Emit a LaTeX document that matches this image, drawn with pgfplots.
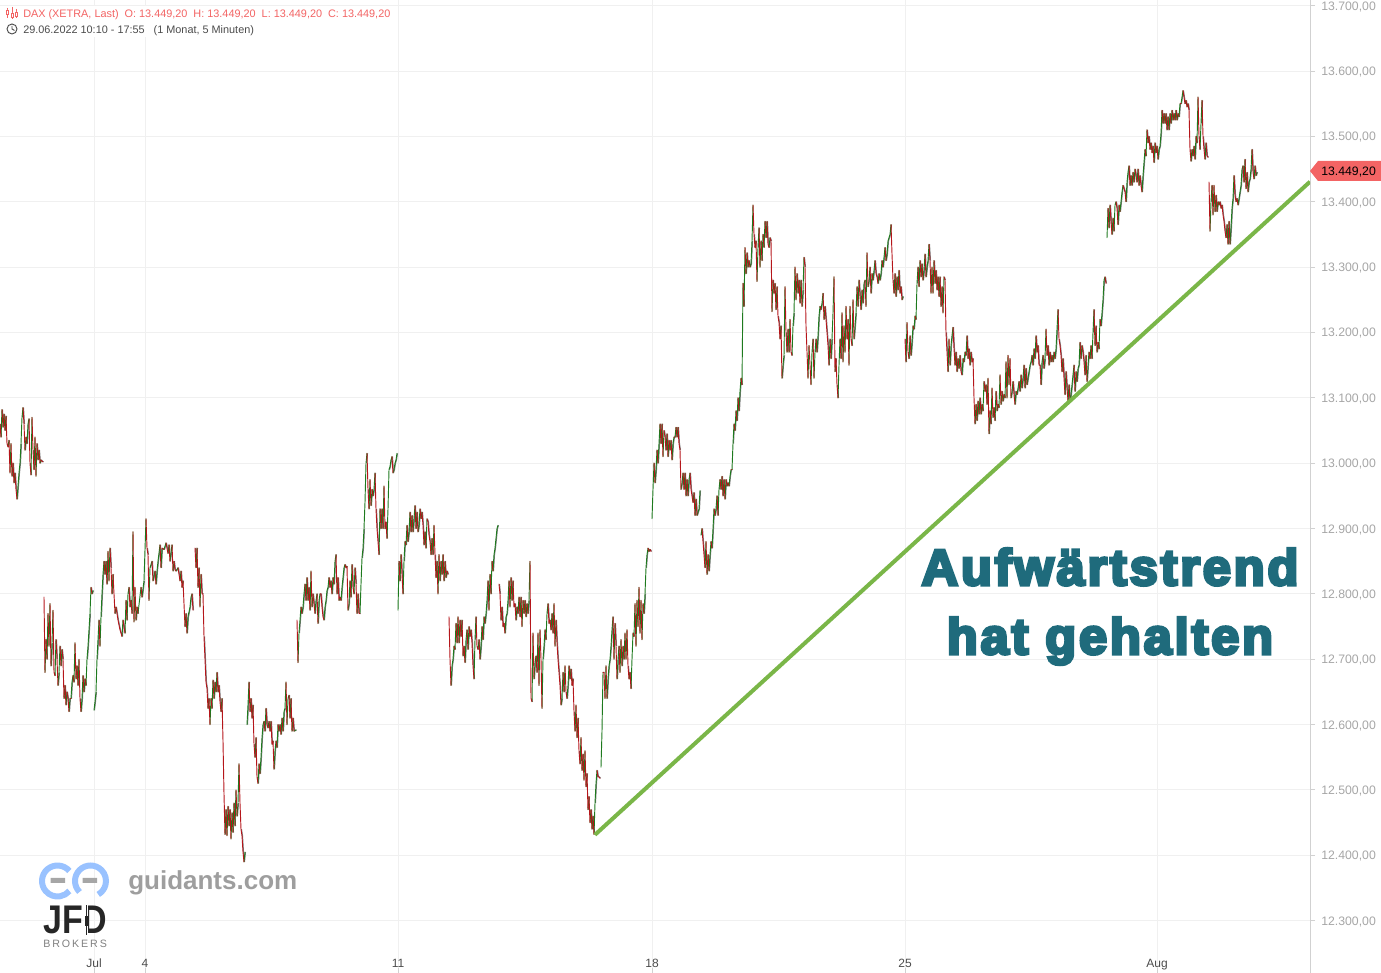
\documentclass[border=0pt]{standalone}
\usepackage{pgfplots}
\pgfplotsset{compat=1.18}
\usepackage{fontspec}
\setmainfont{Liberation Sans}
\newfontfamily\heavy[BoldFeatures={FakeBold=6,LetterSpace=5.5}]{Liberation Sans}
\newfontfamily\logofont[BoldFeatures={LetterSpace=0}]{Liberation Sans}
\newfontfamily\brokers[LetterSpace=18]{Liberation Sans}
\definecolor{upg}{HTML}{1E7A1E}
\definecolor{dnr}{HTML}{B5161B}
\definecolor{wick}{HTML}{7C7C7C}
\definecolor{trend}{HTML}{7AB648}
\definecolor{teal}{HTML}{1F6B7C}
\definecolor{tag}{HTML}{F36464}
\definecolor{lab}{HTML}{A6A6A6}
\gdef\upstr{}\gdef\dnstr{}\gdef\grstr{}
\newcommand\session[1]{%
 \gdef\prevx{}%
 \foreach \x/\y in {#1}{%
  \ifx\prevx\empty\else
   \ifdim\y pt>\prevy pt
    \xdef\upstr{\upstr(\prevx,\prevy)(\x,\y)(\x,nan)}%
    \ifdim\dimexpr\y pt-\prevy pt\relax<40pt \xdef\grstr{\grstr(\prevx,\prevy)(\x,\y)(\x,nan)}\fi
   \else
    \xdef\dnstr{\dnstr(\prevx,\prevy)(\x,\y)(\x,nan)}%
    \ifdim\dimexpr\prevy pt-\y pt\relax<40pt \xdef\grstr{\grstr(\prevx,\prevy)(\x,\y)(\x,nan)}\fi
   \fi
  \fi
  \xdef\prevx{\x}\xdef\prevy{\y}}}
\session{0/13060,1/13040,2/13082,3/13055,4/13075,5/13050,6/13072,7/13030,8/13025,9/13035,10/12985,11/13030,12/12980,13/13000,14/12970,15/12985,16/12960,17/12945,18/12965,19/12985,20/13000,21/13030,22/13070,23/13085,24/13060,25/13020,26/13040,27/13030,28/13060,29/13068,30/13000,31/12982,32/13070,33/13020,34/12990,35/13040,36/12980,37/13030,38/13005,39/13020,40/13000,41/13005,42/13003,43/13002}
\session{44/12795,45/12680,46/12730,47/12700,48/12770,49/12720,50/12785,51/12690,52/12725,53/12775,54/12680,55/12675,56/12730,57/12700,58/12660,59/12680,60/12720,61/12690,62/12715,63/12700,64/12640,65/12660,66/12630,67/12650,68/12640,69/12620,70/12640,71/12640,72/12665,73/12675,74/12665,75/12725,76/12670,77/12690,78/12660,79/12700,80/12640,81/12620,82/12640,83/12675,84/12650,85/12670,86/12660,87/12700,88/12720,89/12745,90/12770,91/12810,92/12800,93/12805}
\session{94/12622,95/12635,96/12650,97/12700,98/12730,99/12760,100/12720,101/12765,102/12800,103/12830,104/12850,105/12830,106/12850,107/12815,108/12865,109/12820,110/12870,111/12840,112/12800,113/12830,115/12770,116/12780,118/12760,120/12745,122/12735,123/12760,125/12740,126/12790,127/12760,128/12800,129/12810,130/12780,131/12790,132/12770,133/12895,134/12757,135/12810,136/12760,137/12780,138/12770,141/12810,142/12795,144/12820,146/12915,147/12870,148/12860,149/12790,150/12840,152/12850,153/12820,155/12835,156/12815,157/12835,158/12850,160/12875,161/12840,162/12870,164/12868,166/12878,167/12870,168/12862,169/12875,170/12850,172/12875,173/12835,174/12850,175/12837,176/12835,178/12840,180/12820,181/12835,182/12810,183/12820,185/12750,186/12770,187/12740,188/12765,190/12780,191/12795,192/12800,193/12775}
\session{195/12870,196/12840,197/12870,198/12810,199/12840,200/12780,201/12830,202/12800,203/12800,204/12735,205/12700,206/12665,207/12655,208/12625,209/12640,210/12600,211/12640,212/12625,213/12668,214/12640,215/12665,216/12650,217/12680,218/12650,219/12660,220/12635,221/12620,222/12640,223/12575,224/12494,225/12432,226/12470,227/12430,228/12475,229/12445,230/12470,231/12425,232/12465,233/12435,234/12480,235/12445,236/12500,237/12460,238/12480,239/12540,240/12480,241/12440,242/12430,243/12405,244/12390,245/12405}
\session{247/12600,248/12630,249/12665,250/12620,251/12640,252/12610,253/12630,254/12570,255/12550,256/12580,257/12520,258/12510,259/12540,260/12525,261/12550,262/12580,263/12600,264/12605,265/12590,266/12625,267/12600,268/12595,269/12605,270/12590,271/12605,272/12570,273/12575,274/12532,275/12560,276/12575,277/12565,278/12600,279/12590,280/12600,281/12585,282/12610,283/12590,284/12620,285/12625,286/12665,287/12600,288/12640,289/12645,290/12610,291/12640,292/12590,293/12610,294/12590,296/12592}
\session{297/12760,298/12695,299/12740,300/12760,301/12780,302/12770,303/12780,304/12800,305/12815,306/12790,307/12825,308/12790,309/12810,310/12775,311/12835,312/12780,313/12800,314/12785,315/12770,316/12790,317/12800,318/12755,319/12790,320/12800,321/12800,322/12780,323/12765,324/12760,325/12780,326/12790,327/12805,328/12810,329/12825,330/12810,331/12820,332/12800,333/12825,334/12815,335/12850,336/12860,337/12800,338/12825,339/12790,340/12795,341/12790,342/12810,343/12825,344/12840,345/12845,346/12840,347/12842,348/12775,349/12785,350/12820,351/12795,352/12845,353/12810,354/12800,355/12840,356/12815,357/12770,358/12800,359/12770,360/12770,361/12815,362/12855,363/12870,364/12900,365/12940,366/13000,367/13015,368/12960,369/12930,370/12975,371/12935,372/12960,373/12950,374/12960,375/12985,376/12930,377/12900,378/12880,379/12860,380/12930,381/12900,382/12930,383/12900,384/12965,385/12900,386/12910,387/12885,388/12930,389/12990,390/12995,391/13005,392/13010,393/12985,394/12990,395/13000,396/13005,397/13015}
\session{398/12775,399/12850,400/12820,401/12860,402/12830,403/12800,404/12850,405/12880,406/12875,407/12905,408/12880,409/12895,410/12925,411/12895,412/12920,413/12895,414/12915,415/12935,416/12900,417/12925,418/12895,419/12905,420/12930,421/12915,422/12925,423/12905,424/12875,425/12895,426/12870,427/12915,428/12910,429/12890,430/12880,431/12860,432/12885,433/12860,434/12905,435/12860,436/12825,437/12850,438/12800,439/12860,440/12820,441/12850,442/12830,443/12860,444/12820,445/12850,446/12825,447/12835,448/12830}
\session{449/12765,450/12700,451/12660,452/12690,453/12700,454/12720,455/12715,456/12755,457/12725,458/12765,459/12725,460/12760,461/12735,462/12760,463/12705,464/12720,465/12695,466/12730,467/12745,468/12715,469/12750,470/12735,471/12745,472/12725,473/12690,474/12670,475/12730,476/12765,477/12720,478/12715,479/12730,480/12700,481/12720,482/12750,483/12730,484/12765,485/12755,486/12770,487/12790,488/12820,489/12775,490/12830,491/12800,492/12850,493/12835,494/12860,495/12870,496/12885,497/12900,498/12905}
\session{499/12815,500/12800,501/12760,502/12780,503/12750,504/12755,505/12740,506/12765,507/12770,508/12790,509/12820,510/12780,511/12825,512/12790,513/12820,514/12780,515/12785,516/12760,517/12780,518/12770,519/12795,520/12765,521/12795,522/12750,523/12790,524/12770,525/12790,526/12765,527/12785,528/12770,529/12790,530/12850,531/12640,532/12635,533/12740,534/12670,535/12695,536/12705,537/12680,538/12740,539/12660,540/12745,541/12700,542/12625,543/12700,544/12720,545/12745,546/12730,547/12770,548/12785,549/12755,550/12760,551/12745,552/12770,553/12740,554/12785,555/12720,556/12760,557/12725,558/12700,559/12680,560/12660,561/12630,562/12640,563/12680,564/12650,565/12690,566/12650,567/12640,568/12660,569/12690,570/12670,571/12685,572/12660,573/12670,574/12620,575/12590,576/12630,577/12580,578/12610,579/12560,580/12540,581/12580,582/12530,583/12555,584/12515,585/12560,586/12505,587/12525,588/12470,589/12490,590/12450,591/12470,592/12440,593/12460,594/12432,595/12480,596/12510,597/12530,598/12520,599/12520,600/12518}
\session{601/12535,602/12590,603/12680,604/12680,605/12640,606/12690,607/12640,608/12670,609/12690,610/12700,611/12720,612/12745,613/12765,614/12700,615/12755,616/12720,617/12670,618/12700,619/12720,620/12680,621/12730,622/12690,623/12720,624/12700,625/12740,626/12700,627/12745,628/12690,629/12670,630/12680,631/12655,632/12700,633/12740,634/12735,635/12785,636/12720,637/12790,638/12750,639/12810,640/12740,641/12790,642/12730,643/12785,644/12770,645/12800,646/12840,647/12860,648/12870,649/12865,650/12868,651/12865}
\session{652/12915,653/12960,654/13000,655/12970,656/12990,657/13020,658/13000,659/13030,660/13060,661/13030,662/13060,663/13010,664/13050,665/13040,666/13020,667/13045,668/13010,669/13035,670/13020,671/13035,672/13005,673/13030,674/13040,675/13040,676/13055,677/13040,678/13055,679/13030,680/13020,681/12960,682/12970,683/12985,684/12960,685/12985,686/12950,687/12975,688/12950,689/12975,690/12985,691/12960,692/12950,693/12940,694/12955,695/12920,696/12945,697/12920,698/12925,699/12930,700/12958}
\session{701/12890,702/12900,703/12880,704/12860,705/12840,706/12880,707/12830,708/12860,709/12835,710/12860,711/12880,712/12870,713/12900,714/12930,715/12920,716/12930,717/12950,718/12920,719/12960,720/12975,721/12960,722/12980,723/12950,724/12975,725/12945,726/12975,727/12965,728/12970,729/12965,730/12980,731/12990,732/12990,733/13030,734/13060,735/13050,736/13080,737/13065,738/13100,739/13080,740/13110,741/13130,742/13120,743/13275,744/13240,745/13330,746/13290,747/13322,748/13300,749/13310,750/13300,751/13305,752/13340,753/13395,754/13350,755/13330,756/13340,757/13278,758/13330,759/13360,760/13300,761/13340,762/13310,763/13350,764/13330,765/13370,766/13345,767/13370,768/13335,769/13330,770/13345,771/13340,772/13232,773/13280,774/13260,775/13275,776/13235,777/13270,778/13225,779/13215,780/13190,781/13210,782/13130,783/13150,784/13165,785/13270,786/13200,787/13170,788/13205,789/13170,790/13220,791/13170,792/13165,793/13210,794/13230,795/13300,796/13250,797/13290,798/13260,799/13280,800/13245,801/13280,802/13240,803/13265,804/13315,805/13300,806/13210,807/13170,808/13130,809/13180,811/13120,812/13170,813/13190,814/13130,815/13170,816/13190,817/13170,818/13195,819/13225,820/13240,821/13235,822/13245,823/13260,824/13220,825/13240,826/13220,827/13200,828/13180,829/13150,830/13190,831/13160,832/13190,833/13230,834/13285,835/13140,836/13160,837/13120,838/13100,839/13150,840/13190,841/13160,842/13230,843/13155,844/13210,845/13170,846/13240,847/13190,848/13220,849/13150,850/13240,851/13190,852/13180,853/13250,854/13190,855/13210,856/13230,857/13270,858/13240,859/13280,860/13255,861/13235,862/13265,863/13245,864/13275,865/13280,866/13240,867/13322,868/13270,869/13280,870/13300,871/13260,872/13290,873/13280,874/13295,875/13310,876/13290,877/13285,878/13275,879/13290,880/13280,881/13290,882/13310,883/13300,884/13315,885/13330,886/13310,887/13320,888/13340,889/13345,890/13350,891/13365,892/13320,893/13280,894/13260,895/13290,896/13255,897/13285,898/13265,899/13295,900/13260,901/13270,902/13250,903/13255}
\session{905/13190,906/13155,907/13215,908/13170,909/13160,910/13195,911/13165,912/13185,913/13210,914/13205,915/13225,916/13220,917/13275,918/13300,919/13270,920/13310,921/13285,922/13305,923/13280,924/13295,925/13320,926/13285,927/13300,928/13310,929/13335,930/13310,931/13260,932/13300,933/13260,934/13310,935/13275,936/13295,937/13265,938/13285,939/13255,940/13285,941/13240,942/13270,943/13230,944/13285,945/13280,946/13200,947/13170,948/13140,949/13190,950/13150,951/13180,952/13195,953/13208,954/13175,955/13150,956/13170,957/13140,958/13160,959/13145,960/13165,961/13140,962/13135,963/13160,964/13155,965/13170,966/13165,967/13195,968/13160,969/13175,970/13150,971/13170,972/13155,973/13160,974/13100,975/13060,976/13090,977/13065,978/13095,979/13075,980/13100,981/13075,982/13090,983/13080,984/13125,985/13110,986/13120,987/13090,988/13130,989/13045,990/13080,991/13060,992/13115,993/13070,994/13085,995/13065,996/13110,997/13080,998/13090,999/13085,1000/13135,1001/13090,1002/13110,1003/13095,1004/13105,1005/13100,1006/13155,1007/13100,1008/13165,1009/13120,1010/13160,1011/13100,1012/13110,1013/13125,1014/13105,1015/13090,1016/13110,1017/13105,1018/13115,1019/13125,1020/13110,1021/13135,1022/13115,1023/13130,1024/13150,1025/13115,1026/13145,1027/13120,1028/13130,1029/13140,1030/13150,1031/13155,1032/13165,1033/13150,1034/13175,1035/13160,1036/13195,1037/13170,1038/13180,1039/13150,1040/13150,1041/13120,1042/13155,1043/13165,1044/13145,1045/13160,1046/13205,1047/13165,1048/13180,1049/13150,1050/13170,1051/13155,1052/13165,1053/13155,1054/13170,1055/13160,1056/13175,1057/13205,1058/13235,1059/13190,1060/13180,1061/13165,1062/13140,1063/13160,1064/13130,1065/13105,1066/13140,1067/13115,1068/13095,1069/13120,1070/13095,1071/13105,1072/13120,1073/13135,1074/13150,1075/13110,1076/13140,1077/13125,1078/13145,1079/13150,1080/13185,1081/13160,1082/13180,1083/13170,1084/13155,1085/13135,1086/13165,1087/13125,1088/13150,1089/13170,1090/13160,1091/13180,1092/13160,1093/13200,1094/13235,1095/13180,1096/13210,1097/13170,1098/13185,1099/13175,1100/13220,1101/13210,1102/13230,1103/13250,1104/13280,1105/13285,1106/13275}
\session{1107/13345,1108/13390,1109/13360,1110/13395,1111/13370,1112/13350,1113/13375,1114/13355,1115/13395,1116/13400,1117/13390,1118/13365,1119/13395,1120/13385,1121/13400,1122/13415,1123/13425,1124/13420,1125/13415,1126/13400,1127/13430,1128/13445,1129/13455,1130/13425,1131/13440,1132/13425,1133/13445,1134/13430,1135/13450,1136/13440,1137/13430,1138/13450,1139/13425,1140/13440,1141/13425,1142/13415,1143/13440,1144/13460,1145/13480,1146/13470,1147/13510,1148/13490,1149/13500,1150/13480,1151/13490,1152/13475,1153/13485,1154/13460,1155/13490,1156/13475,1157/13485,1158/13465,1159/13480,1160/13485,1161/13505,1162/13540,1163/13520,1164/13535,1165/13520,1166/13535,1167/13510,1168/13530,1169/13510,1170/13535,1171/13520,1172/13540,1173/13525,1174/13535,1175/13525,1176/13540,1177/13525,1178/13535,1179/13530,1180/13550,1181/13550,1182/13560,1183/13570,1184/13560,1185/13550,1186/13555,1187/13545,1188/13550,1189/13540,1190/13480,1191/13462,1192/13480,1193/13470,1194/13485,1195/13465,1196/13500,1197/13490,1198/13560,1199/13500,1200/13480,1201/13520,1202/13555,1203/13500,1204/13480,1205/13465,1206/13490,1207/13470,1208/13468}
\session{1209/13430,1210/13355,1211/13400,1212/13425,1213/13380,1214/13425,1215/13385,1216/13410,1217/13385,1218/13400,1219/13395,1220/13400,1221/13390,1222/13395,1223/13380,1224/13370,1225/13355,1226/13345,1227/13365,1228/13335,1229/13370,1230/13335,1231/13360,1232/13390,1233/13405,1234/13440,1235/13410,1236/13400,1237/13405,1238/13395,1239/13405,1240/13415,1241/13425,1242/13450,1243/13455,1244/13430,1245/13465,1246/13420,1247/13445,1248/13415,1249/13430,1250/13435,1251/13450,1252/13480,1253/13445,1254/13435,1255/13455,1256/13440,1257/13445}
\begin{document}
\begin{tikzpicture}
\useasboundingbox (0,0) rectangle (1035.75pt,729.75pt);
\begin{axis}[at={(0,0)},anchor=south west,scale only axis,width=982.5pt,height=729.75pt,
 xmin=0,xmax=1310,ymin=12220,ymax=13708.7,
 unbounded coords=jump,
 axis y line=right,axis x line=bottom,axis line style={-,draw=black!18,line width=0.75pt},
 x axis line style={draw=none},
 xtick={94,145,398,652,905,1157},xticklabels={Jul,4,11,18,25,Aug},
 ytick={12300,12400,12500,12600,12700,12800,12900,13000,13100,13200,13300,13400,13500,13600,13700},
 scaled y ticks=false,
 y tick label style={/pgf/number format/fixed,/pgf/number format/fixed zerofill,/pgf/number format/precision=2,/pgf/number format/1000 sep={.},/pgf/number format/dec sep={,},/pgf/number format/assume math mode=true},
 grid=major,major grid style={draw=black!6,line width=0.75pt},
 tick style={draw=black!18,line width=0.75pt},
 xtick align=inside,ytick align=outside,major tick length=3.75pt,
 yticklabel style={anchor=west,font=\fontsize{9.2}{11}\selectfont,text=lab,xshift=2.5pt,yshift=-0.75pt,inner sep=2pt},
 xticklabel style={anchor=base,font=\fontsize{9}{11}\selectfont,text=black!70,yshift=4.25pt},
 ]
\edef\cmd{\noexpand\addplot[wick,line width=0.75pt,xshift=0.4pt,forget plot] coordinates {\grstr};}\cmd
\edef\cmd{\noexpand\addplot[upg,line width=0.7pt,line cap=round,forget plot] coordinates {\upstr};}\cmd
\edef\cmd{\noexpand\addplot[dnr,line width=0.7pt,line cap=round,forget plot] coordinates {\dnstr};}\cmd
\addplot[trend,line width=3pt,forget plot] coordinates {(595,12431.5)(1310,13430.7)};
\end{axis}
\begin{scope}[x=0.75pt,y=-0.75pt,yshift=729.75pt]
 % header
 \fill[white] (0,6) rectangle (394,37);
 \node[anchor=base west,inner sep=0,text=tag,font=\fontsize{8.15}{10}\selectfont] at (23,18) {DAX (XETRA, Last)\hspace{4.5pt}O: 13.449,20\hspace{4.5pt}H: 13.449,20\hspace{4.5pt}L: 13.449,20\hspace{4.5pt}C: 13.449,20};
 \node[anchor=base west,inner sep=0,text=black!70,font=\fontsize{8.15}{10}\selectfont] at (23,34) {29.06.2022 10:10 - 17:55\hspace{4.5pt} (1 Monat, 5 Minuten)};
 \draw[tag,line width=0.6pt] (7,8)--(7,18) (12,7)--(12,19) (16,9)--(16,18);
 \fill[white,draw=tag,line width=0.6pt] (6,10) rectangle (8,14) (11,13) rectangle (13,17) (15,12) rectangle (17,16);
 \draw[black!70,line width=0.7pt] (12,29) circle[radius=5];
 \draw[black!70,line width=0.7pt] (12,26)--(12,29)--(14.5,30.5);
 % price tag
 \fill[tag] (1310,171)--(1318,161)--(1381,161)--(1381,181)--(1318,181)--cycle;
 \node[anchor=base west,inner sep=0,font=\fontsize{9.2}{11}\selectfont] at (1321,175.5) {13.449,20};
 % big text
 \node[anchor=base,inner sep=0,text=teal,font=\heavy\bfseries\fontsize{38}{40}\selectfont] at (1110,585) {Aufwärtstrend};
 \node[anchor=base,inner sep=0,text=teal,font=\heavy\bfseries\fontsize{38}{40}\selectfont] at (1110,654) {hat gehalten};
 % logo
 \definecolor{logob}{HTML}{99C2FF}
 \draw[logob,line width=4.5pt] (57.5,881)++(-40:15.5) arc[start angle=-40,end angle=-320,radius=15.5];
 \draw[logob,line width=4.5pt] (90.5,881)++(-225:15.5) arc[start angle=-225,end angle=60,radius=15.5];
 \fill[black!35] (50.5,878) rectangle (65,883) (82.5,878) rectangle (97,883);
 \node[anchor=base west,inner sep=0,text=black!38,font=\logofont\bfseries\fontsize{19.5}{22}\selectfont] at (128,890) {guidants.com};
 \node[anchor=base west,inner sep=0,text=black!85,font=\bfseries\fontsize{30}{31}\selectfont,xscale=0.85] at (43,934) {JFD};
 \fill[white] (84,903) rectangle (88,936);
 \fill[black!85] (85.5,905) rectangle (86.5,935);
 \fill[black!85] (84.5,916) rectangle (87.5,926);
 \node[anchor=base west,inner sep=0,text=black!50,font=\brokers\fontsize{8}{10}\selectfont] at (43,948) {BROKERS};
\end{scope}
\end{tikzpicture}
\end{document}
